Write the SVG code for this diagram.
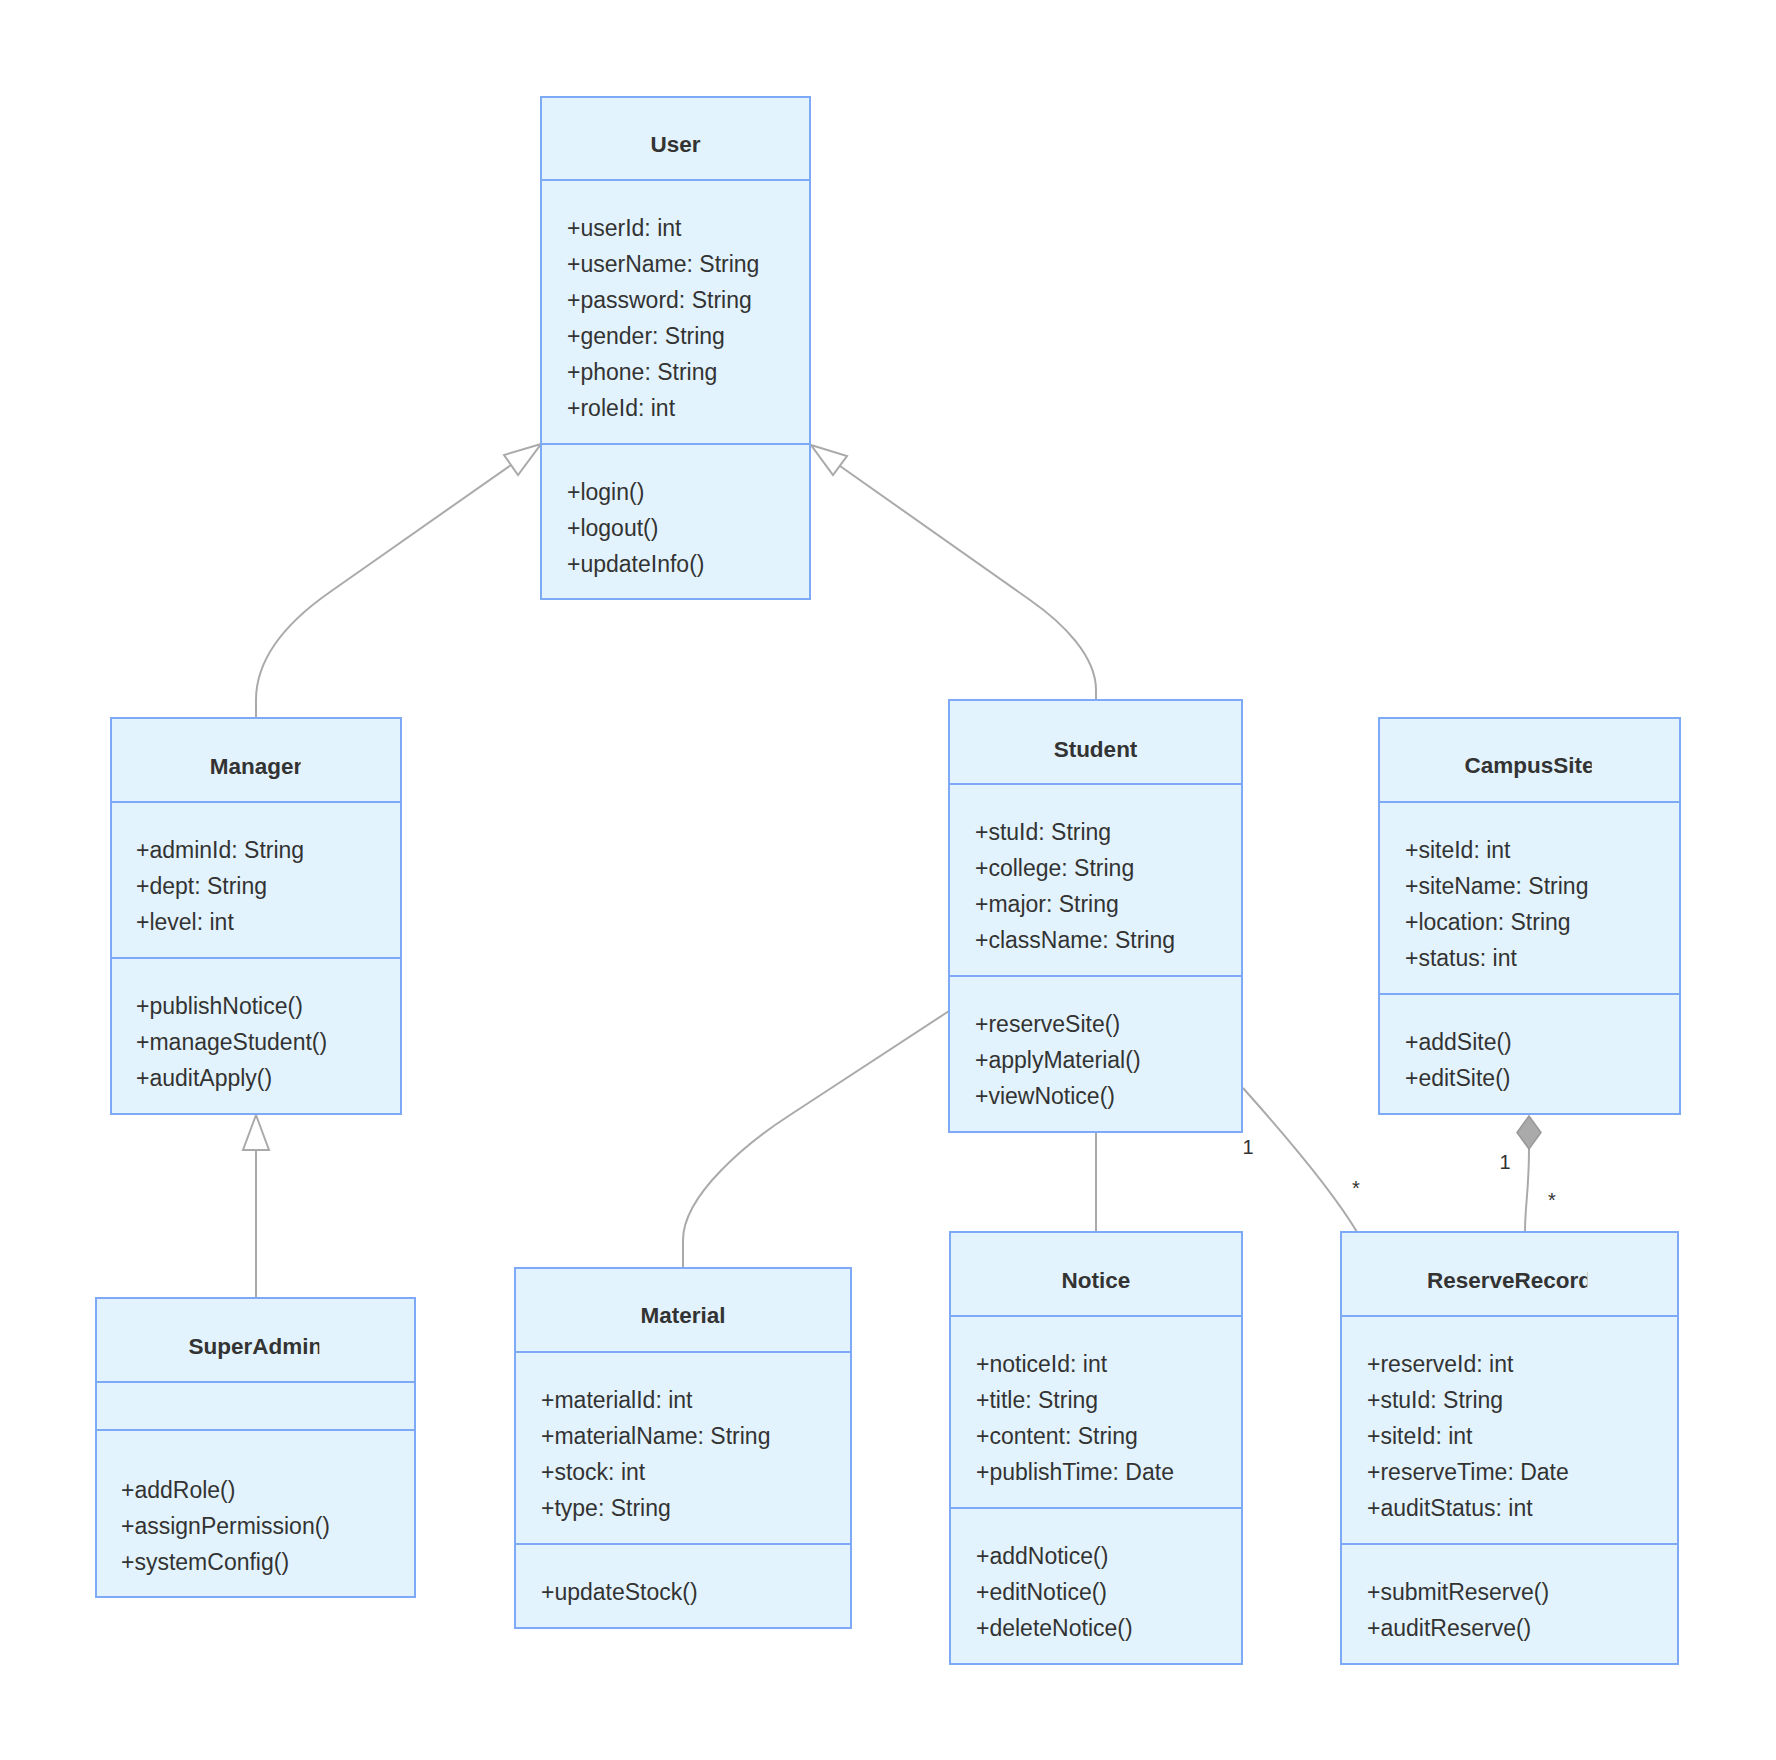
<svg xmlns="http://www.w3.org/2000/svg" width="1776" height="1760" viewBox="0 0 1776 1760">
<style>
.box{fill:#E3F3FD;stroke:#7DA9F7;stroke-width:2}
.div{stroke:#7DA9F7;stroke-width:2}
.t{font-family:"Liberation Sans",Arial,sans-serif;font-size:22.5px;font-weight:bold;fill:#333;text-anchor:middle}
.m{font-family:"Liberation Sans",Arial,sans-serif;font-size:23px;fill:#333}
.edge{fill:none;stroke:#AAAAAA;stroke-width:2}
.lbl{font-family:"Liberation Sans",Arial,sans-serif;font-size:20px;fill:#333;text-anchor:middle}
.tri{fill:#fff;stroke:#AAAAAA;stroke-width:2}
.dia{fill:#AAAAAA;stroke:#999;stroke-width:1.5}
</style>
<defs>
<clipPath id="cManager"><rect x="111" y="718" width="189.7" height="84"/></clipPath>
<clipPath id="cSuperAdmin"><rect x="96" y="1298" width="223.3" height="84"/></clipPath>
<clipPath id="cMaterial"><rect x="515" y="1268" width="211.7" height="84"/></clipPath>
<clipPath id="cCampusSite"><rect x="1379" y="718" width="212.7" height="84"/></clipPath>
<clipPath id="cReserveRecord"><rect x="1341" y="1232" width="246.3" height="84"/></clipPath>
</defs>
<rect width="1776" height="1760" fill="#fff"/>

<g id="connectors">
<path class="edge" d="M256,1298 L256,1150"/>
<polygon class="tri" points="256,1115 243,1150 269,1150"/>
<path class="edge" d="M256,718 L256,700 C256,652 297,615 330,592 L511,465"/>
<polygon class="tri" points="541,444 504,455 518,475"/>
<path class="edge" d="M1096,700 L1096,690 C1096,656 1063,623 1030,600 L840,466"/>
<polygon class="tri" points="811,445 847,456 833,475"/>
<path class="edge" d="M949,1011 L790,1115 C748,1142 683,1195 683,1240 L683,1268"/>
<path class="edge" d="M1096,1132 L1096,1232"/>
<path class="edge" d="M1243,1088 C1285,1135 1335,1195 1357,1232"/>
<text class="lbl" x="1248" y="1154">1</text>
<text class="lbl" x="1356" y="1195">*</text>
<path class="edge" d="M1529,1149 C1529,1190 1525,1205 1525,1232"/>
<polygon class="dia" points="1529,1116 1541,1132.5 1529,1149 1517,1132.5"/>
<text class="lbl" x="1505" y="1169">1</text>
<text class="lbl" x="1552" y="1207">*</text>
</g>

<g id="User">
<rect class="box" x="541" y="97" width="269" height="502"/>
<line class="div" x1="541" y1="180" x2="810" y2="180"/>
<line class="div" x1="541" y1="444" x2="810" y2="444"/>
<text class="t" x="675.5" y="152">User</text>
<text class="m" x="567" y="236">+userId: int</text>
<text class="m" x="567" y="272">+userName: String</text>
<text class="m" x="567" y="308">+password: String</text>
<text class="m" x="567" y="344">+gender: String</text>
<text class="m" x="567" y="380">+phone: String</text>
<text class="m" x="567" y="416">+roleId: int</text>
<text class="m" x="567" y="500">+login()</text>
<text class="m" x="567" y="536">+logout()</text>
<text class="m" x="567" y="572">+updateInfo()</text>
</g>

<g id="Manager">
<rect class="box" x="111" y="718" width="290" height="396"/>
<line class="div" x1="111" y1="802" x2="401" y2="802"/>
<line class="div" x1="111" y1="958" x2="401" y2="958"/>
<text class="t" x="256" y="774" clip-path="url(#cManager)">Manager</text>
<text class="m" x="136" y="858">+adminId: String</text>
<text class="m" x="136" y="894">+dept: String</text>
<text class="m" x="136" y="930">+level: int</text>
<text class="m" x="136" y="1014">+publishNotice()</text>
<text class="m" x="136" y="1050">+manageStudent()</text>
<text class="m" x="136" y="1086">+auditApply()</text>
</g>

<g id="SuperAdmin">
<rect class="box" x="96" y="1298" width="319" height="299"/>
<line class="div" x1="96" y1="1382" x2="415" y2="1382"/>
<line class="div" x1="96" y1="1430" x2="415" y2="1430"/>
<text class="t" x="255.5" y="1354" clip-path="url(#cSuperAdmin)">SuperAdmin</text>
<text class="m" x="121" y="1498">+addRole()</text>
<text class="m" x="121" y="1534">+assignPermission()</text>
<text class="m" x="121" y="1570">+systemConfig()</text>
</g>

<g id="Material">
<rect class="box" x="515" y="1268" width="336" height="360"/>
<line class="div" x1="515" y1="1352" x2="851" y2="1352"/>
<line class="div" x1="515" y1="1544" x2="851" y2="1544"/>
<text class="t" x="683" y="1323" clip-path="url(#cMaterial)">Material</text>
<text class="m" x="541" y="1408">+materialId: int</text>
<text class="m" x="541" y="1444">+materialName: String</text>
<text class="m" x="541" y="1480">+stock: int</text>
<text class="m" x="541" y="1516">+type: String</text>
<text class="m" x="541" y="1600">+updateStock()</text>
</g>

<g id="Student">
<rect class="box" x="949" y="700" width="293" height="432"/>
<line class="div" x1="949" y1="784" x2="1242" y2="784"/>
<line class="div" x1="949" y1="976" x2="1242" y2="976"/>
<text class="t" x="1095.5" y="757">Student</text>
<text class="m" x="975" y="840">+stuId: String</text>
<text class="m" x="975" y="876">+college: String</text>
<text class="m" x="975" y="912">+major: String</text>
<text class="m" x="975" y="948">+className: String</text>
<text class="m" x="975" y="1032">+reserveSite()</text>
<text class="m" x="975" y="1068">+applyMaterial()</text>
<text class="m" x="975" y="1104">+viewNotice()</text>
</g>

<g id="Notice">
<rect class="box" x="950" y="1232" width="292" height="432"/>
<line class="div" x1="950" y1="1316" x2="1242" y2="1316"/>
<line class="div" x1="950" y1="1508" x2="1242" y2="1508"/>
<text class="t" x="1096" y="1288">Notice</text>
<text class="m" x="976" y="1372">+noticeId: int</text>
<text class="m" x="976" y="1408">+title: String</text>
<text class="m" x="976" y="1444">+content: String</text>
<text class="m" x="976" y="1480">+publishTime: Date</text>
<text class="m" x="976" y="1564">+addNotice()</text>
<text class="m" x="976" y="1600">+editNotice()</text>
<text class="m" x="976" y="1636">+deleteNotice()</text>
</g>

<g id="CampusSite">
<rect class="box" x="1379" y="718" width="301" height="396"/>
<line class="div" x1="1379" y1="802" x2="1680" y2="802"/>
<line class="div" x1="1379" y1="994" x2="1680" y2="994"/>
<text class="t" x="1529.5" y="773" clip-path="url(#cCampusSite)">CampusSite</text>
<text class="m" x="1405" y="858">+siteId: int</text>
<text class="m" x="1405" y="894">+siteName: String</text>
<text class="m" x="1405" y="930">+location: String</text>
<text class="m" x="1405" y="966">+status: int</text>
<text class="m" x="1405" y="1050">+addSite()</text>
<text class="m" x="1405" y="1086">+editSite()</text>
</g>

<g id="ReserveRecord">
<rect class="box" x="1341" y="1232" width="337" height="432"/>
<line class="div" x1="1341" y1="1316" x2="1678" y2="1316"/>
<line class="div" x1="1341" y1="1544" x2="1678" y2="1544"/>
<text class="t" x="1509.5" y="1288" clip-path="url(#cReserveRecord)">ReserveRecord</text>
<text class="m" x="1367" y="1372">+reserveId: int</text>
<text class="m" x="1367" y="1408">+stuId: String</text>
<text class="m" x="1367" y="1444">+siteId: int</text>
<text class="m" x="1367" y="1480">+reserveTime: Date</text>
<text class="m" x="1367" y="1516">+auditStatus: int</text>
<text class="m" x="1367" y="1600">+submitReserve()</text>
<text class="m" x="1367" y="1636">+auditReserve()</text>
</g>
</svg>
